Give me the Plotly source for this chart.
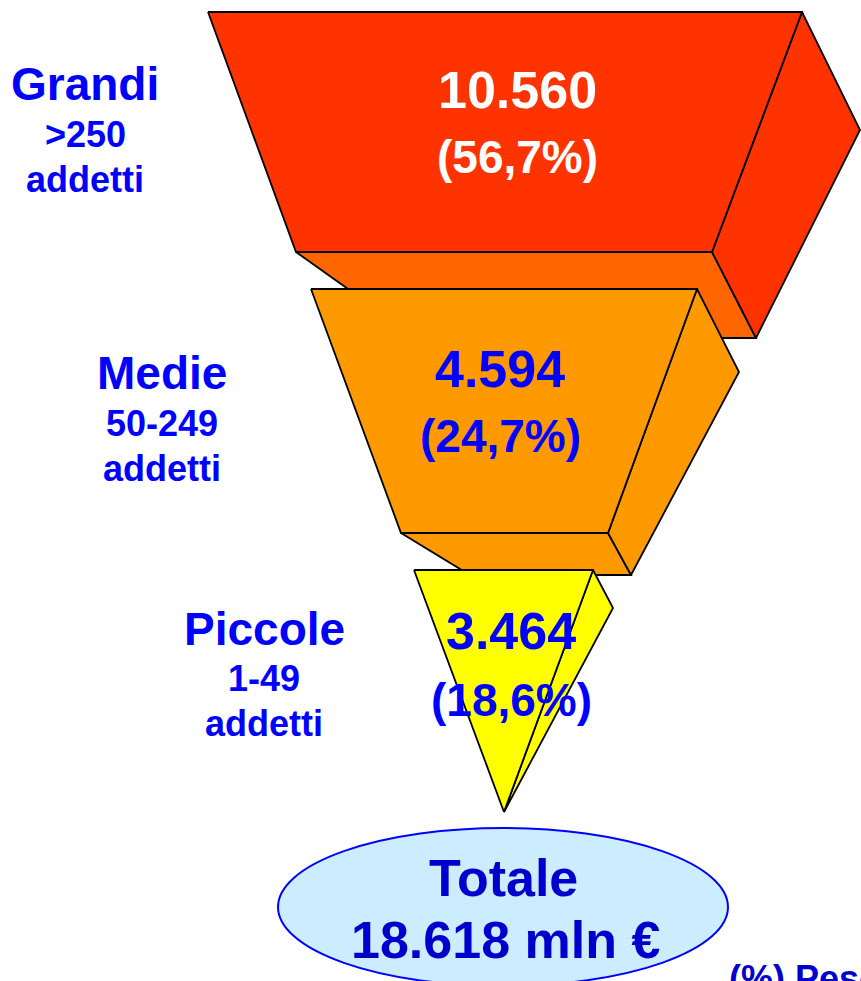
import plotly.graph_objects as go

# ---- data ----
categories = ["Grandi", "Medie", "Piccole"]
size_classes = [">250", "50-249", "1-49"]
unit_label = "addetti"
values = [10560, 4594, 3464]          # mln €
shares = [56.7, 24.7, 18.6]           # %
total_value = 18618
total_title = "Totale"
footnote = "(%) Peso sul totale"

def it_int(v):
    return f"{v:,}".replace(",", ".")

def it_pct(p):
    return "(" + f"{p:.1f}".replace(".", ",") + "%)"

# ---- geometry (pixel layout of the 3D funnel) ----
W, H = 861, 981
blocks = [
    dict(bottom=[(296,252),(712,252),(756,338),(417,338)],
         right=[(802,12),(860,130),(756,338),(712,252)],
         front=[(208,12),(802,12),(712,252),(296,252)],
         c_front="#FF3300", c_right="#FF3300", c_bottom="#FF6600"),
    dict(bottom=[(401,533),(608,533),(631,575),(470,575)],
         right=[(697,289),(739,372),(631,575),(608,533)],
         front=[(311,289),(697,289),(608,533),(401,533)],
         c_front="#FF9900", c_right="#FF9900", c_bottom="#FF9900"),
    dict(bottom=None,
         right=[(593,570),(613,608),(504,812)],
         front=[(414,570),(593,570),(504,812)],
         c_front="#FFFF00", c_right="#FFFF00", c_bottom=None),
]
label_pos = [  # (cat x, cat y, sub y, unit y), (value x, value y, pct y)
    ((85, 84, 134, 179), (517, 90, 157)),
    ((162, 373, 423, 468), (500, 369, 436)),
    ((264, 629, 678, 723), (511, 631, 700)),
]
value_colors = ["#FFFFFF", "#0000FF", "#0000FF"]

fig = go.Figure()

def poly(pts, color):
    xs = [p[0] for p in pts] + [pts[0][0]]
    ys = [p[1] for p in pts] + [pts[0][1]]
    fig.add_trace(go.Scatter(x=xs, y=ys, mode="lines", fill="toself",
                             fillcolor=color, line=dict(color="black", width=1.8),
                             hoverinfo="skip", showlegend=False))

for b in blocks:
    if b["bottom"]:
        poly(b["bottom"], b["c_bottom"])
    poly(b["right"], b["c_right"])
    poly(b["front"], b["c_front"])

FONT = "Liberation Sans, Arial, sans-serif"
BLUE = "#0000FF"
ann = []
def txt(x, y, s, size, color, xanchor="center"):
    ann.append(dict(x=x, y=y, xref="x", yref="y", text=s, showarrow=False,
                    xanchor=xanchor, yanchor="middle",
                    font=dict(family=FONT, size=size, color=color, weight="bold")))

for i in range(3):
    (cx, cy, sy, uy), (vx, vy, py) = label_pos[i]
    txt(cx, cy, categories[i], 46, BLUE)
    txt(cx, sy, size_classes[i], 36, BLUE)
    txt(cx, uy, unit_label, 36, BLUE)
    txt(vx, vy, it_int(values[i]), 52, value_colors[i])
    txt(vx, py, it_pct(shares[i]), 46, value_colors[i])

fig.add_shape(type="circle", xref="x", yref="y", x0=278, x1=728, y0=828, y1=986,
              fillcolor="#CCECFF", line=dict(color="#0000FF", width=2), layer="above")
txt(503, 878, total_title, 52, "#0000CC")
txt(505, 940, it_int(total_value) + " mln €", 52, "#0000CC")
txt(727, 978, footnote, 36, "#0000CC", xanchor="left")

fig.update_layout(
    width=W, height=H, autosize=False,
    margin=dict(l=0, r=0, t=0, b=0),
    paper_bgcolor="white", plot_bgcolor="white",
    xaxis=dict(range=[0, W], visible=False, fixedrange=True),
    yaxis=dict(range=[H, 0], visible=False, fixedrange=True),
    annotations=ann,
    showlegend=False,
)
fig.write_html("out.html", config={"displayModeBar": False},
               post_script="document.body.style.margin='0';document.body.style.overflow='hidden';")
